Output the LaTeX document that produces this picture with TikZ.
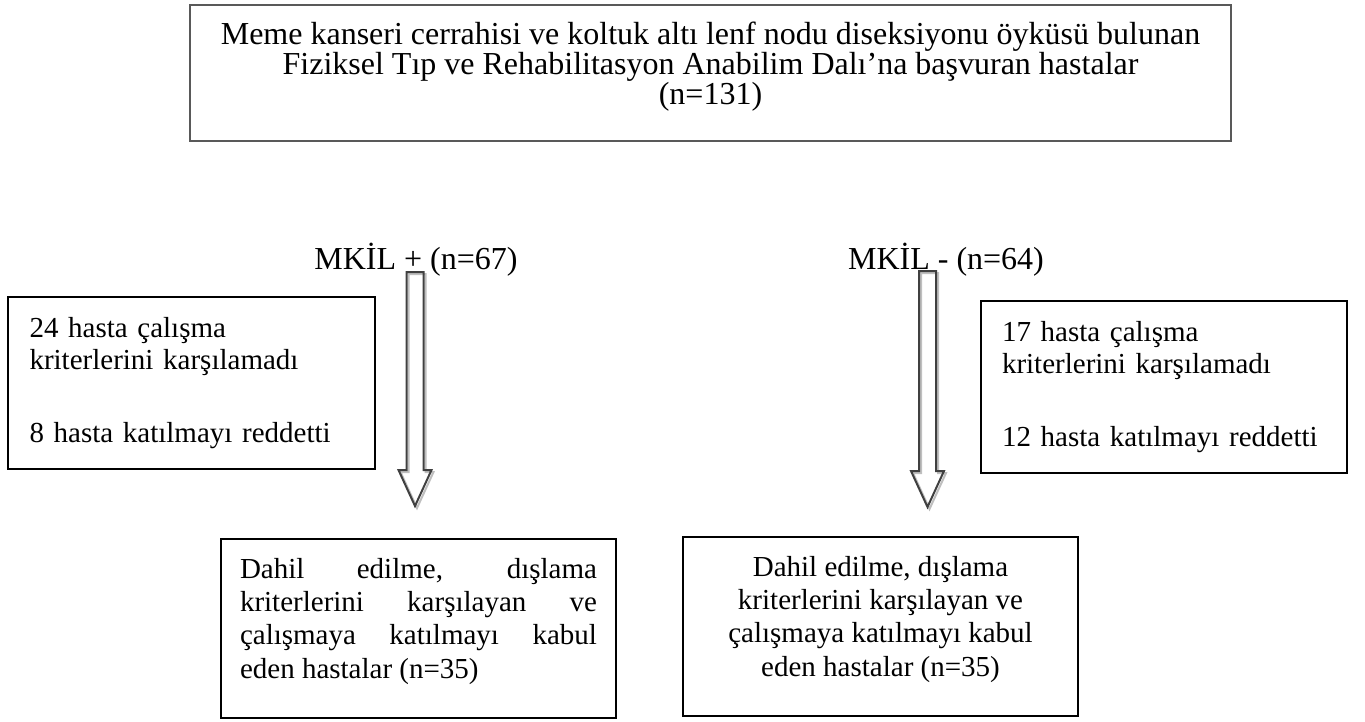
\documentclass[tikz,border=0pt]{standalone}
\usepackage{fontspec}
\setmainfont{Liberation Serif}
\usetikzlibrary{calc}

% extra depth below the last line of a box
\newcommand{\padbelow}[1]{\rule[-#1]{0pt}{#1}}
% hollow block arrow with its grey shadow, from #1 (top) to #2 (tip)
\newcommand{\hollowarrow}[2]{%
  \draw[arrowshadow] ($(#1)+(-8.5,0)$) -- ($(#2)+(-8.5,-36)$) -- ($(#2)+(-16.5,-36)$) -- (#2)
    -- ($(#2)+(16.5,-36)$) -- ($(#2)+(8.5,-36)$) -- ($(#1)+(8.5,0)$) -- cycle;
  \draw[arrowline] ($(#1)+(-8.5,0)$) -- ($(#2)+(-8.5,-36)$) -- ($(#2)+(-16.5,-36)$) -- (#2)
    -- ($(#2)+(16.5,-36)$) -- ($(#2)+(8.5,-36)$) -- ($(#1)+(8.5,0)$) -- cycle;}

\begin{document}
\begin{tikzpicture}[x=1pt, y=-1pt,
    every node/.style={inner sep=0pt},
    mainbox/.style={draw=black!65, line width=2.5pt, minimum width=1041pt, minimum height=136pt,
      align=center, font=\fontsize{32}{28}\selectfont},
    sidebox/.style={draw, line width=2pt, minimum width=367pt, minimum height=172pt,
      text width=324pt, align=left, font=\fontsize{29}{32}\selectfont},
    endbox/.style={draw, line width=1.5pt, minimum width=395pt, minimum height=179pt,
      font=\fontsize{29}{33.3}\selectfont},
    grouplabel/.style={font=\fontsize{32}{32}\selectfont},
    arrowline/.style={draw=black!75, line width=2pt},
    arrowshadow/.style={draw=black!25, line width=2pt, transform canvas={xshift=2pt, yshift=-2pt}}]
    \useasboundingbox (0,0) rectangle (1365,722);

    \node[mainbox] (cohort) at (710.5,73) {Meme kanseri cerrahisi ve koltuk altı lenf nodu diseksiyonu öyküsü bulunan\\
      Fiziksel Tıp ve Rehabilitasyon Anabilim Dalı’na başvuran hastalar\\(n=131)\padbelow{20pt}};

    \node[grouplabel] (mkilP) at (416,260) {MKİL + (n=67)};
    \node[grouplabel] (mkilN) at (946,260) {MKİL - (n=64)};

    \node[sidebox] (exclP) at (191.5,383) {24 hasta çalışma\\kriterlerini karşılamadı\\[41pt]8 hasta katılmayı reddetti};
    \node[sidebox, minimum width=366pt] (exclN) at (1164,387) {17 hasta çalışma\\kriterlerini karşılamadı\\[41pt]12 hasta katılmayı reddetti};

    \node[endbox, text width=357pt, align=justify] (inclP) at (418.5,628.5)
      {Dahil edilme, dışlama\linebreak kriterlerini karşılayan ve\linebreak çalışmaya katılmayı kabul\linebreak eden hastalar (n=35)\padbelow{21pt}};
    \node[endbox, align=center] (inclN) at (880.5,626.5)
      {Dahil edilme, dışlama\\kriterlerini karşılayan ve\\çalışmaya katılmayı kabul\\eden hastalar (n=35)\padbelow{21pt}};

    \coordinate (topP) at (415,272);
    \coordinate (tipP) at (415,506);
    \coordinate (topN) at (927.5,271);
    \coordinate (tipN) at (927.5,507);
    \hollowarrow{topP}{tipP}
    \hollowarrow{topN}{tipN}
\end{tikzpicture}
\end{document}
